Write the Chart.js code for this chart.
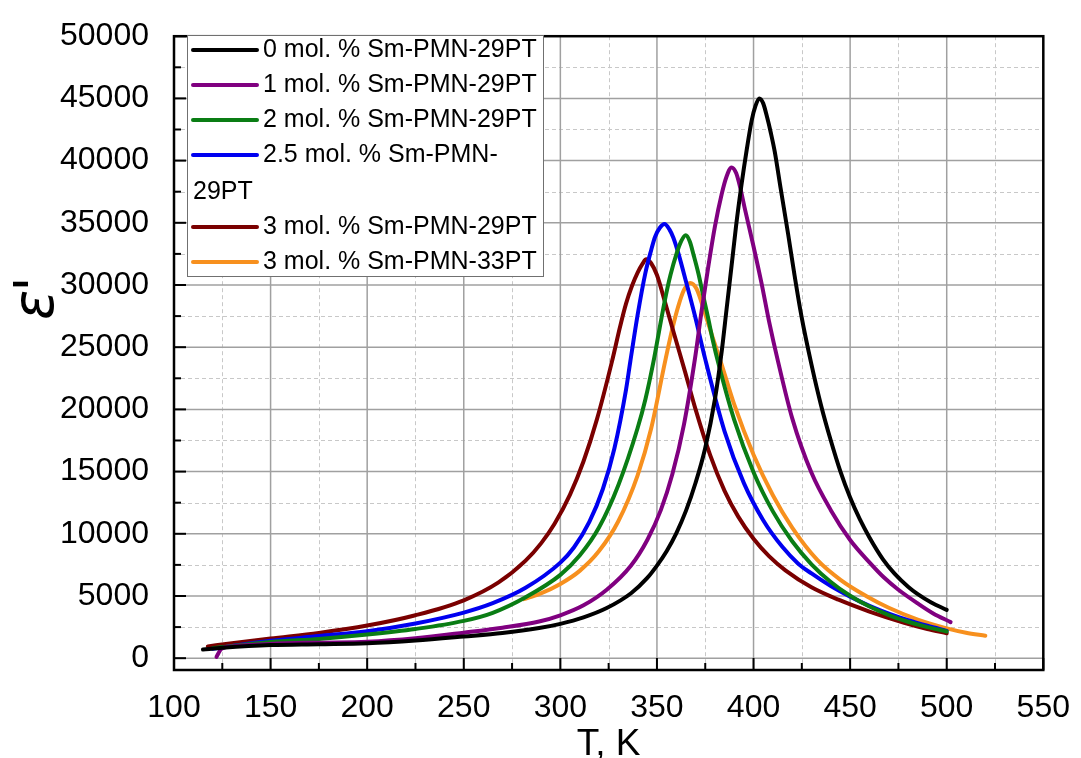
<!DOCTYPE html>
<html>
<head>
<meta charset="utf-8">
<script src="https://cdn.jsdelivr.net/npm/chart.js@4"></script>
<style>
  html, body { margin: 0; padding: 0; background: #fff; }
  #wrap { width: 1081px; height: 758px; position: relative; }
</style>
</head>
<body>
<div id="wrap"><canvas id="chart"></canvas></div>
<script>
const LABELS = [
  '0 mol. % Sm-PMN-29PT',
  '1 mol. % Sm-PMN-29PT',
  '2 mol. % Sm-PMN-29PT',
  '2.5 mol. % Sm-PMN-29PT',
  '3 mol. % Sm-PMN-29PT',
  '3 mol. % Sm-PMN-33PT',
];
const COLORS = ['#000000', '#800080', '#0a7d14', '#0000f0', '#7a0000', '#f7901e'];

// temperature (K) / permittivity pairs
const T_0 = [115, 125, 150, 175, 200, 225, 250, 270, 289, 300, 312, 324, 336.6, 345, 350, 355, 360, 365, 370, 375, 380, 383.5, 386, 388.6, 391, 393.8, 396.5, 399, 401, 403, 405, 407, 409, 411, 414, 417.9, 421, 424.8, 430, 435, 440, 445, 450, 455, 460, 467, 473, 480, 485, 492, 500];
const E_0 = [700, 830, 1050, 1120, 1200, 1420, 1740, 2020, 2420, 2760, 3280, 4030, 5220, 6450, 7440, 8600, 10040, 11840, 14100, 16900, 20800, 24630, 28000, 31500, 34800, 38100, 40900, 43200, 44400, 45000, 44600, 43500, 42200, 40700, 37800, 34100, 31000, 27500, 23600, 20300, 17500, 15000, 12910, 11170, 9710, 7950, 6800, 5750, 5150, 4480, 3880];

const T_1 = [122, 123, 124.5, 130, 150, 175, 200, 225, 250, 270, 289, 300, 312, 324, 336.6, 345, 352, 358, 364, 369.7, 373, 376.6, 380, 383.5, 386, 388.6, 391, 393, 395.4, 400, 404.1, 408, 412.7, 420, 430, 440, 450, 460, 467.4, 475, 485, 493, 502];
const E_1 = [100, 400, 750, 950, 1150, 1250, 1320, 1600, 2050, 2450, 2950, 3450, 4250, 5500, 7450, 9500, 11900, 14800, 18800, 24100, 27800, 31500, 34700, 37300, 38700, 39450, 39000, 37900, 36200, 33100, 30170, 27100, 23840, 19300, 14900, 11900, 9500, 7700, 6500, 5500, 4400, 3600, 2900];

const T_2 = [120, 150, 175, 200, 225, 250, 265, 282, 300, 310, 320, 330, 340, 344, 348.2, 351, 354.2, 357, 360.2, 362.5, 364.9, 367, 369, 371.4, 374, 376.6, 379, 381.8, 390, 400, 410, 420, 430, 440, 450, 460, 470, 480, 490, 500];
const E_2 = [800, 1300, 1550, 1900, 2350, 3000, 3650, 4900, 6700, 8250, 10500, 13900, 18500, 20800, 23840, 26200, 28850, 30800, 32540, 33500, 34000, 33500, 32400, 30960, 29100, 27270, 25500, 23700, 19150, 14950, 11800, 9400, 7550, 6130, 5020, 4150, 3470, 2930, 2500, 2150];

const T_25 = [120, 150, 175, 200, 225, 250, 265, 282, 300, 307, 315, 322, 328, 334, 336.2, 340, 344, 347, 349, 351.5, 353.9, 356.5, 358.5, 361.1, 365, 369.7, 374.9, 385, 395, 405, 415, 423, 430, 440, 450, 460, 470, 480, 490, 500];
const E_25 = [750, 1400, 1780, 2170, 2790, 3665, 4420, 5655, 7680, 8895, 10950, 13600, 16880, 21590, 23840, 27600, 30960, 32800, 33860, 34600, 34900, 34450, 33800, 32540, 30300, 27500, 24100, 18240, 14070, 11090, 8930, 7620, 6810, 5800, 4950, 4210, 3590, 3060, 2610, 2200];

const T_3 = [117.5, 130, 150, 175, 200, 225, 250, 268, 282, 290, 297, 305, 312, 319, 326.7, 331, 334, 337, 340, 342.5, 344.4, 347, 350, 354.2, 359, 364.6, 370, 377.6, 385, 392, 400, 408, 416.5, 430, 444, 460, 478, 490, 500];
const E_3 = [950, 1200, 1580, 2030, 2620, 3450, 4650, 6090, 7840, 9230, 10810, 13150, 15830, 19240, 23840, 26700, 28500, 29900, 31000, 31700, 32070, 31750, 30800, 28600, 26000, 23000, 20000, 16300, 13450, 11400, 9600, 8200, 7060, 5700, 4700, 3750, 2850, 2350, 2000];

const T_33 = [281, 289, 300, 310, 320, 330, 340, 347, 354.2, 358, 361.1, 364, 367.2, 370.5, 374.9, 379, 383.5, 390, 400, 410, 420, 433, 445, 458.5, 470, 485, 500, 510, 520];
const E_33 = [4750, 5150, 5970, 7020, 8610, 11010, 14700, 18460, 23840, 26500, 28320, 29600, 30170, 29700, 27700, 25700, 23600, 20400, 16350, 13100, 10500, 7900, 6300, 4980, 4050, 3100, 2400, 2050, 1800];

const SERIES = [[T_0, E_0], [T_1, E_1], [T_2, E_2], [T_25, E_25], [T_3, E_3], [T_33, E_33]];

const X_TICKS = [100, 150, 200, 250, 300, 350, 400, 450, 500, 550];
const X_MINOR = [125, 175, 225, 275, 325, 375, 425, 475, 525];
const Y_TICKS = [0, 5000, 10000, 15000, 20000, 25000, 30000, 35000, 40000, 45000, 50000];
const Y_MINOR = [2500, 7500, 12500, 17500, 22500, 27500, 32500, 37500, 42500, 47500];

const FONT = "'Liberation Sans', Arial, sans-serif";

// grid, inward ticks, frame, legend box and axis titles
const decorPlugin = {
  id: 'decor',
  beforeDatasetsDraw(chart) {
    const { ctx, chartArea: a, scales: { x, y } } = chart;
    ctx.save();
    ctx.lineWidth = 1;
    ctx.strokeStyle = '#c8c8c8';
    ctx.setLineDash([4, 3]);
    X_MINOR.forEach((v) => {
      const px = Math.round(x.getPixelForValue(v)) + 0.5;
      ctx.beginPath(); ctx.moveTo(px, a.top); ctx.lineTo(px, a.bottom); ctx.stroke();
    });
    Y_MINOR.forEach((v) => {
      const py = Math.round(y.getPixelForValue(v)) + 0.5;
      ctx.beginPath(); ctx.moveTo(a.left, py); ctx.lineTo(a.right, py); ctx.stroke();
    });
    ctx.setLineDash([]);
    ctx.strokeStyle = '#a0a0a0';
    ctx.lineWidth = 1.5;
    X_TICKS.forEach((v) => {
      const px = x.getPixelForValue(v);
      ctx.beginPath(); ctx.moveTo(px, a.top); ctx.lineTo(px, a.bottom); ctx.stroke();
    });
    Y_TICKS.forEach((v) => {
      const py = y.getPixelForValue(v);
      ctx.beginPath(); ctx.moveTo(a.left, py); ctx.lineTo(a.right, py); ctx.stroke();
    });
    ctx.restore();
  },
  afterDatasetsDraw(chart) {
    const { ctx, chartArea: a, scales: { x, y } } = chart;
    ctx.save();
    ctx.strokeStyle = '#000';
    ctx.lineWidth = 2;
    X_TICKS.forEach((v) => {
      const px = x.getPixelForValue(v);
      ctx.beginPath(); ctx.moveTo(px, a.bottom); ctx.lineTo(px, a.bottom - 12); ctx.stroke();
    });
    X_MINOR.forEach((v) => {
      const px = x.getPixelForValue(v);
      ctx.beginPath(); ctx.moveTo(px, a.bottom); ctx.lineTo(px, a.bottom - 7); ctx.stroke();
    });
    Y_TICKS.forEach((v) => {
      const py = y.getPixelForValue(v);
      ctx.beginPath(); ctx.moveTo(a.left, py); ctx.lineTo(a.left + 12, py); ctx.stroke();
    });
    Y_MINOR.forEach((v) => {
      const py = y.getPixelForValue(v);
      ctx.beginPath(); ctx.moveTo(a.left, py); ctx.lineTo(a.left + 7, py); ctx.stroke();
    });
    ctx.lineWidth = 2.5;
    ctx.strokeRect(a.left, a.top, a.right - a.left, a.bottom - a.top);

    // legend
    const box = { l: 187, t: 35, r: 543, b: 276 };
    ctx.fillStyle = '#fff';
    ctx.fillRect(box.l, box.t, box.r - box.l, box.b - box.t);
    ctx.lineWidth = 1;
    ctx.strokeStyle = '#707070';
    ctx.strokeRect(box.l + 0.5, box.t + 0.5, box.r - box.l, box.b - box.t);
    ctx.font = '25px ' + FONT;
    ctx.textBaseline = 'middle';
    ctx.fillStyle = '#000';
    const textX = 263;
    const maxW = box.r - textX - 2;
    let rowY = 50;
    chart.data.datasets.forEach((ds) => {
      ctx.strokeStyle = ds.borderColor;
      ctx.lineWidth = 4;
      ctx.lineCap = 'round';
      ctx.beginPath(); ctx.moveTo(193, rowY); ctx.lineTo(257, rowY); ctx.stroke();
      const text = ds.label;
      if (ctx.measureText(text).width > maxW) {
        const cut = text.lastIndexOf('-') + 1;
        ctx.fillText(text.slice(0, cut), textX, rowY);
        rowY += 37;
        ctx.fillText(text.slice(cut), 193, rowY);
      } else {
        ctx.fillText(text, textX, rowY);
      }
      rowY += 35;
    });

    // axis titles
    ctx.textAlign = 'center';
    ctx.textBaseline = 'alphabetic';
    ctx.font = '37px ' + FONT;
    ctx.fillText('T, K', (a.left + a.right) / 2, 755);

    ctx.translate(53, 320);
    ctx.rotate(-Math.PI / 2);
    ctx.textAlign = 'left';
    ctx.font = "italic 56px 'DejaVu Sans'";
    ctx.fillText('ε', 0, 0);
    const w = ctx.measureText('ε').width;
    ctx.fillText("'", w - 2, 0);
    ctx.restore();
  },
};

const datasets = SERIES.map(([ts, es], i) => ({
  label: LABELS[i],
  data: ts.map((t, k) => ({ x: t, y: es[k] })),
  borderColor: COLORS[i],
  borderWidth: 4,
  pointRadius: 0,
  fill: false,
  cubicInterpolationMode: 'monotone',
  borderCapStyle: 'round',
  borderJoinStyle: 'round',
}));

new Chart(document.getElementById('chart'), {
  type: 'line',
  data: { datasets },
  plugins: [decorPlugin],
  options: {
    responsive: true,
    maintainAspectRatio: false,
    animation: false,
    layout: { padding: { top: 26, right: 35, left: 0, bottom: 0 } },
    plugins: { legend: { display: false }, tooltip: { enabled: false } },
    scales: {
      x: {
        type: 'linear',
        min: 100,
        max: 550,
        grid: { display: false },
        border: { display: false },
        afterBuildTicks: (s) => { s.ticks = X_TICKS.map((v) => ({ value: v })); },
        afterFit: (s) => { s.height = 88; },
        ticks: {
          color: '#000',
          font: { family: FONT, size: 32 },
          padding: 11,
          maxRotation: 0,
          autoSkip: false,
          callback: (v) => String(v),
        },
      },
      y: {
        type: 'linear',
        min: -950,
        max: 50000,
        grid: { display: false },
        border: { display: false },
        afterBuildTicks: (s) => { s.ticks = Y_TICKS.map((v) => ({ value: v })); },
        afterFit: (s) => { s.width = 174; },
        ticks: {
          color: '#000',
          font: { family: FONT, size: 32 },
          padding: 17,
          autoSkip: false,
          callback: (v) => String(v),
        },
      },
    },
  },
});
</script>
</body>
</html>
